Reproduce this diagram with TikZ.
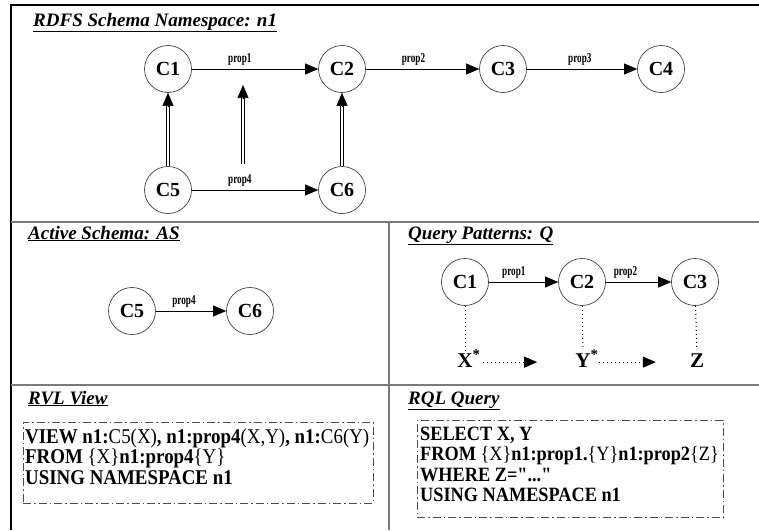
\documentclass[tikz,border=0pt]{standalone}
\usepackage{fontspec}
\setmainfont{Liberation Serif}[Ligatures=TeXOff]
\newfontfamily\lblfont{Liberation Serif}[FakeStretch=0.68, Ligatures=TeXOff]
\newfontfamily\codefont{Liberation Serif}[FakeStretch=0.9, Ligatures=TeXOff]
\usetikzlibrary{arrows.meta}
\begin{document}
\begin{tikzpicture}[x=1pt,y=-1pt,
  frame/.style={draw=black, line width=1.4pt},
  divider/.style={draw=black!52, line width=1.8pt},
  title/.style={anchor=base west, inner sep=0pt, font=\fontsize{19}{19}\selectfont\bfseries\itshape},
  cls/.style={circle, draw=black!75, line width=0.7pt, minimum size=47pt, inner sep=0pt, font=\fontsize{20}{20}\selectfont\bfseries},
  edge/.style={draw=black, line width=0.8pt, -{Triangle[length=13pt,width=11pt]}},
  lbl/.style={above, inner sep=3pt, font=\lblfont\fontsize{13.5}{13.5}\selectfont\bfseries},
  dbl/.style={draw=black, double=white, double distance=2.4pt, line width=0.6pt, shorten >=12pt},
  tiponly/.style={draw=black, line width=0.6pt, -{Triangle[length=13pt,width=11pt]}},
  dotline/.style={draw=black, line width=1pt, dash pattern=on 1pt off 3pt},
  dotarrow/.style={draw=black, line width=1pt, dash pattern=on 1pt off 3pt, -{Triangle[length=13pt,width=11pt]}},
  var/.style={anchor=base, inner sep=3pt, font=\fontsize{21}{21}\selectfont\bfseries},
  codebox/.style={draw=black!70, line width=0.8pt, dash pattern=on 8pt off 3pt on 1.5pt off 3pt, inner sep=0pt, anchor=north west},
  code/.style={anchor=base west, inner sep=0pt, font=\codefont\fontsize{21}{21}\selectfont\bfseries},
  codeq/.style={anchor=base west, inner sep=0pt, font=\codefont\fontsize{20.3}{20.3}\selectfont\bfseries}
]
\useasboundingbox (0,0) rectangle (759,530);

% frame and dividers
\draw[frame] (11,530) -- (11,5) -- (759,5);
\draw[divider] (11,222) -- (759,222);
\draw[divider] (11,385) -- (759,385);
\draw[divider] (389,222) -- (389,530);

% titles
\node[title] (t1) at (33,26) {\underline{RDFS Schema Namespace: n1}};
\node[title] (t2) at (28,239) {\underline{Active Schema: AS}};
\node[title] (t3) at (408,239) {\underline{Query Patterns: Q}};
\node[title] (t4) at (28,404) {\underline{RVL View}};
\node[title] (t5) at (408,404) {\underline{RQL Query}};

% RDFS schema
\node[cls] (c1) at (168,69) {C1};
\node[cls] (c2) at (342,69) {C2};
\node[cls] (c3) at (503,69) {C3};
\node[cls] (c4) at (661,69) {C4};
\node[cls] (c5) at (168,190) {C5};
\node[cls] (c6) at (342,190) {C6};

\draw[edge] (c1) -- node[lbl, pos=0.38] {prop1} (c2);
\draw[edge] (c2) -- node[lbl, pos=0.42] {prop2} (c3);
\draw[edge] (c3) -- node[lbl, pos=0.48] {prop3} (c4);
\draw[edge] (c5) -- node[lbl, pos=0.38] {prop4} (c6);

\draw[dbl] (c5) -- (c1);
\draw[tiponly] ([yshift=-14pt]c1.south) -- (c1.south);
\draw[dbl] (c6) -- (c2);
\draw[tiponly] ([yshift=-14pt]c2.south) -- (c2.south);
\coordinate (sb) at (243,164);
\coordinate (st) at (243,85);
\draw[dbl] (sb) -- (st);
\draw[tiponly] ([yshift=-14pt]st) -- (st);

% Active schema
\node[cls] (a5) at (132,311) {C5};
\node[cls] (a6) at (250,311) {C6};
\draw[edge] (a5) -- node[lbl, pos=0.4] {prop4} (a6);

% Query patterns
\node[cls] (q1) at (465,282) {C1};
\node[cls] (q2) at (582,282) {C2};
\node[cls] (q3) at (695,282) {C3};
\draw[edge] (q1) -- node[lbl, pos=0.36] {prop1} (q2);
\draw[edge] (q2) -- node[lbl, pos=0.3] {prop2} (q3);

\node[var] (xv) at (465,367) {X\rlap{\smash{\textsuperscript{*}}}};
\node[var] (yv) at (583,367) {Y\rlap{\smash{\textsuperscript{*}}}};
\node[var] (zv) at (697,367) {Z};
\draw[dotline] (q1) -- (xv);
\draw[dotline] (q2) -- (yv);
\draw[dotline] (q3) -- (zv);
\draw[dotarrow, shorten <=7pt, shorten >=35pt] ([yshift=-2pt]xv.east) -- ([yshift=-2pt]yv.west);
\draw[dotarrow, shorten <=5pt, shorten >=31pt] ([yshift=-2pt]yv.east) -- ([yshift=-2pt]zv.west);

% RVL view
\node[codebox, minimum width=350pt, minimum height=81pt] (rvlbox) at (23,422) {};
\node[code] (rvl1) at (25,443) {VIEW n1:{\mdseries C5(X)}, n1:prop4{\mdseries(X,Y)}, n1:{\mdseries C6(Y)}};
\node[code] (rvl2) at (25,463.5) {FROM {\mdseries\{X\}}n1:prop4{\mdseries\{Y\}}};
\node[code] (rvl3) at (25,484) {USING NAMESPACE n1};

% RQL query
\node[codebox, minimum width=306pt, minimum height=97pt] (rqlbox) at (417,420) {};
\node[codeq] (rql1) at (420,440) {SELECT X, Y};
\node[codeq] (rql2) at (420,460.5) {FROM {\mdseries\{X\}}n1:prop1.{\mdseries\{Y\}}n1:prop2{\mdseries\{Z\}}};
\node[codeq] (rql3) at (420,481) {WHERE Z="..."};
\node[codeq] (rql4) at (420,501.5) {USING NAMESPACE n1};
\end{tikzpicture}
\end{document}
